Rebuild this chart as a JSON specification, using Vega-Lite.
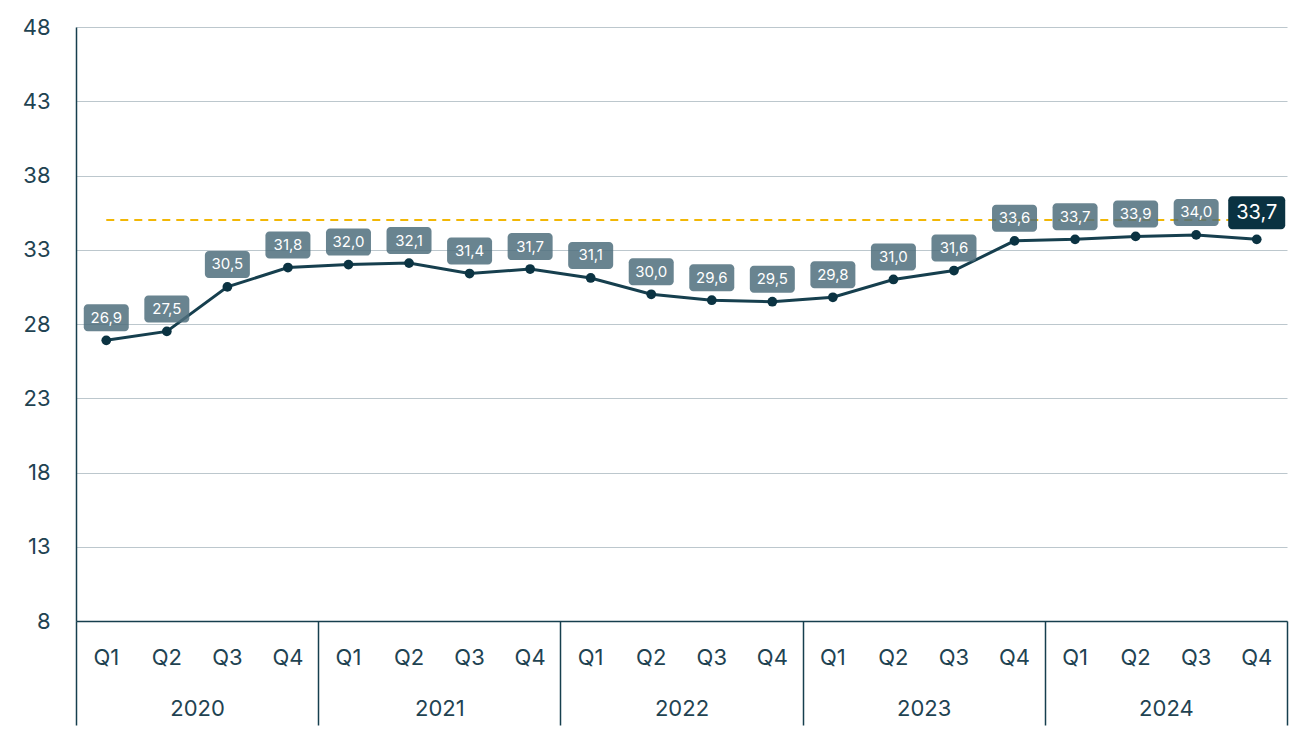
{
  "$schema": "https://vega.github.io/schema/vega-lite/v6.json",
  "width": 1211,
  "height": 594,
  "autosize": "none",
  "padding": {"left": 76, "top": 27, "right": 20, "bottom": 117},
  "background": "white",
  "config": {
    "font": "Inter",
    "locale": {"number": {"decimal": ",", "thousands": ".", "grouping": [3], "currency": ["", " €"]}},
    "view": {"stroke": null}
  },
  "data": {
    "values": [
      {"year": "2020", "period": "2020-Q1", "value": 26.9, "target": 35},
      {"year": "2020", "period": "2020-Q2", "value": 27.5, "target": 35},
      {"year": "2020", "period": "2020-Q3", "value": 30.5, "target": 35},
      {"year": "2020", "period": "2020-Q4", "value": 31.8, "target": 35},
      {"year": "2021", "period": "2021-Q1", "value": 32.0, "target": 35},
      {"year": "2021", "period": "2021-Q2", "value": 32.1, "target": 35},
      {"year": "2021", "period": "2021-Q3", "value": 31.4, "target": 35},
      {"year": "2021", "period": "2021-Q4", "value": 31.7, "target": 35},
      {"year": "2022", "period": "2022-Q1", "value": 31.1, "target": 35},
      {"year": "2022", "period": "2022-Q2", "value": 30.0, "target": 35},
      {"year": "2022", "period": "2022-Q3", "value": 29.6, "target": 35},
      {"year": "2022", "period": "2022-Q4", "value": 29.5, "target": 35},
      {"year": "2023", "period": "2023-Q1", "value": 29.8, "target": 35},
      {"year": "2023", "period": "2023-Q2", "value": 31.0, "target": 35},
      {"year": "2023", "period": "2023-Q3", "value": 31.6, "target": 35},
      {"year": "2023", "period": "2023-Q4", "value": 33.6, "target": 35},
      {"year": "2024", "period": "2024-Q1", "value": 33.7, "target": 35},
      {"year": "2024", "period": "2024-Q2", "value": 33.9, "target": 35},
      {"year": "2024", "period": "2024-Q3", "value": 34.0, "target": 35},
      {"year": "2024", "period": "2024-Q4", "value": 33.7, "target": 35}
    ]
  },
  "layer": [
    {
      "encoding": {
        "x": {
          "field": "period",
          "type": "ordinal",
          "sort": null,
          "scale": {"type": "band", "paddingInner": 0, "paddingOuter": 0},
          "axis": {
            "title": null,
            "labelAngle": 0,
            "labelExpr": "split(datum.label, '-')[1]",
            "ticks": false,
            "domain": true,
            "domainColor": "#163f4e",
            "domainWidth": 1.5,
            "grid": false,
            "labelFontSize": 22,
            "labelColor": "#1f4352",
            "labelPadding": 26
          }
        },
        "y": {
          "field": "value",
          "type": "quantitative",
          "scale": {"domain": [8, 48], "zero": false, "nice": false},
          "axis": {
            "title": null,
            "values": [8, 13, 18, 23, 28, 33, 38, 43, 48],
            "format": "d",
            "ticks": false,
            "tickSize": 0,
            "labelPadding": 26,
            "labelFontSize": 22,
            "labelColor": "#1f4352",
            "domain": true,
            "domainColor": "#163f4e",
            "domainWidth": 1.5,
            "grid": true,
            "gridColor": "#bcc7cd",
            "gridWidth": 1
          }
        }
      },
      "layer": [
        {
          "mark": {"type": "line", "color": "#f2b705", "strokeWidth": 2, "strokeDash": [8, 6]},
          "encoding": {"y": {"field": "target", "type": "quantitative"}}
        },
        {
          "mark": {"type": "line", "color": "#163f4e", "strokeWidth": 3}
        },
        {
          "mark": {"type": "circle", "size": 95, "color": "#0b3342", "opacity": 1}
        },
        {
          "transform": [{"filter": "datum.period != '2024-Q4'"}],
          "mark": {"type": "bar", "width": 45, "cornerRadius": 4, "yOffset": -36, "y2Offset": -9, "fill": "#4f6f7d", "fillOpacity": 0.85},
          "encoding": {"y2": {"field": "value"}}
        },
        {
          "transform": [{"filter": "datum.period != '2024-Q4'"}],
          "mark": {"type": "text", "color": "white", "fontSize": 15, "baseline": "middle", "dy": -22.5},
          "encoding": {"text": {"field": "value", "type": "quantitative", "format": ".1f"}}
        },
        {
          "transform": [{"filter": "datum.period == '2024-Q4'"}],
          "mark": {"type": "bar", "width": 57, "cornerRadius": 4, "yOffset": -43, "y2Offset": -10, "fill": "#0a3241"},
          "encoding": {"y2": {"field": "value"}}
        },
        {
          "transform": [{"filter": "datum.period == '2024-Q4'"}],
          "mark": {"type": "text", "color": "white", "fontSize": 20, "baseline": "middle", "dy": -26.5},
          "encoding": {"text": {"field": "value", "type": "quantitative", "format": ".1f"}}
        }
      ]
    },
    {
      "mark": {"type": "point", "opacity": 0},
      "encoding": {
        "x": {
          "field": "year",
          "type": "ordinal",
          "scale": {"type": "band", "paddingInner": 0, "paddingOuter": 0},
          "axis": {
            "title": null,
            "orient": "bottom",
            "labelAngle": 0,
            "tickBand": "extent",
            "ticks": true,
            "tickSize": 104,
            "tickColor": "#163f4e",
            "tickWidth": 1.5,
            "domain": false,
            "grid": false,
            "labelFontSize": 22,
            "labelColor": "#1f4352",
            "labelPadding": -27
          }
        }
      }
    }
  ],
  "resolve": {"scale": {"x": "independent"}, "axis": {"x": "independent"}}
}
